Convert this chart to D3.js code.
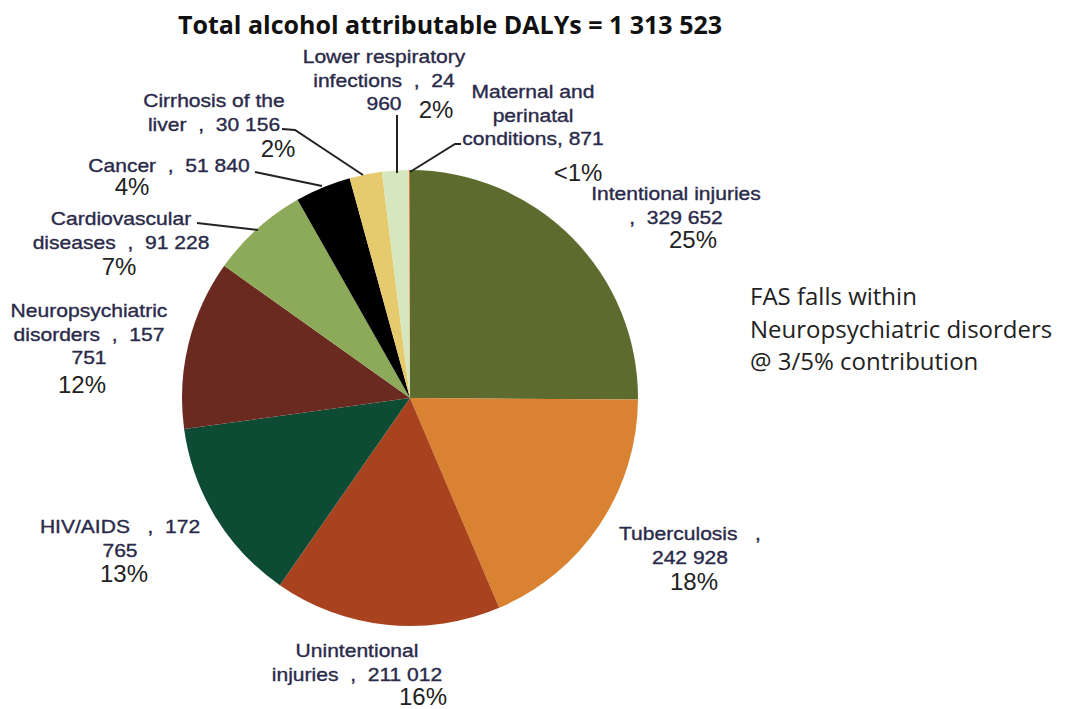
<!DOCTYPE html>
<html>
<head>
<meta charset="utf-8">
<script src="https://cdn.jsdelivr.net/npm/d3@7"></script>
<style>
  body { margin: 0; background: #fff; }
  svg { display: block; }
  text { white-space: pre; }
  .lbl { font-family: "Liberation Sans", Arial, sans-serif; font-size: 18px; fill: #2a2a4a; stroke: #2a2a4a; stroke-width: 0.35px; }
  .pct { font-family: "Liberation Sans", Arial, sans-serif; font-size: 24px; fill: #222; }
</style>
</head>
<body>
<div id="graphContainer"></div>
<script>
// дані діаграми
const categories = ["Intentional injuries", "Tuberculosis", "Unintentional injuries", "HIV/AIDS",
  "Neuropsychiatric disorders", "Cardiovascular diseases", "Cancer", "Cirrhosis of the liver",
  "Lower respiratory infections", "Maternal and perinatal conditions"];
const values = [329652, 242928, 211012, 172765, 157751, 91228, 51840, 30156, 24960, 871];
const percents = ["25%", "18%", "16%", "13%", "12%", "7%", "4%", "2%", "2%", "<1%"];
const colors = ["#5e6b2e", "#d98231", "#a9431f", "#0e4b34", "#6b2a1f", "#8da95a", "#000000", "#e6cb6e", "#d6e7c0", "#e06a2a"];
const labelLines = [
  ["Intentional injuries", ",  329 652"],
  ["Tuberculosis   ,", "242 928"],
  ["Unintentional", "injuries  ,  211 012"],
  ["HIV/AIDS   ,  172", "765"],
  ["Neuropsychiatric", "disorders  ,  157", "751"],
  ["Cardiovascular", "diseases  ,  91 228"],
  ["Cancer  ,  51 840"],
  ["Cirrhosis of the", "liver  ,  30 156"],
  ["Lower respiratory", "infections  ,  24", "960"],
  ["Maternal and", "perinatal", "conditions, 871"]
];
const title = "Total alcohol attributable DALYs = 1 313 523";
const note = ["FAS falls within", "Neuropsychiatric disorders", "@ 3/5% contribution"];

// розміщення підписів (x центру, y першого рядка, позиція відсотків)
const labelPos = [
  {x: 676, y: 200, px: 693, py: 248},
  {x: 690, y: 540, px: 694, py: 590},
  {x: 357, y: 657, px: 423, py: 705},
  {x: 120, y: 533, px: 124, py: 582},
  {x: 89, y: 317, px: 82, py: 393},
  {x: 121, y: 225, px: 119, py: 275},
  {x: 169, y: 172, px: 132, py: 195},
  {x: 214, y: 107, px: 278, py: 157},
  {x: 384, y: 63, px: 436, py: 118},
  {x: 533, y: 98, px: 578, py: 181}
];
const lineGap = 23.5;
// виносні лінії: точки [x,y]
const leaders = [
  null, null, null, null, null,
  [[197, 223], [258, 230]],
  [[255, 172], [322, 186]],
  [[282, 129], [295, 130], [363, 175]],
  [[397, 115], [397, 173]],
  [[461, 144], [455, 144], [410, 172]]
];

const width = 1065, height = 709;
const cx = 410, cy = 398, r = 228;

const svg = d3.select("#graphContainer").append("svg")
  .attr("width", width)
  .attr("height", height);

svg.append("text")
  .attr("x", 450).attr("y", 34)
  .attr("text-anchor", "middle")
  .style("font-family", "'Open Sans', 'DejaVu Sans', sans-serif")
  .style("font-weight", "bold")
  .style("font-size", "25px")
  .style("fill", "#111")
  .text(title);

const pie = d3.pie().sort(null).value(d => d);
const arc = d3.arc().innerRadius(0).outerRadius(r);

const g = svg.append("g").attr("transform", `translate(${cx},${cy})`);
g.selectAll("path")
  .data(pie(values))
  .enter().append("path")
  .attr("d", arc)
  .attr("fill", (d, i) => colors[i]);

// лінії
const line = d3.line();
svg.selectAll("path.leader")
  .data(leaders.filter(d => d))
  .enter().append("path")
  .attr("class", "leader")
  .attr("d", d => line(d))
  .attr("fill", "none")
  .attr("stroke", "#222")
  .attr("stroke-width", 2);

// підписи (шрифт трохи розтягнутий по горизонталі)
categories.forEach((c, i) => {
  const p = labelPos[i];
  labelLines[i].forEach((s, k) => {
    svg.append("text").attr("class", "lbl")
      .attr("text-anchor", "middle")
      .attr("transform", `translate(${p.x},${p.y + k * lineGap}) scale(1.17,1)`)
      .text(s);
  });
  svg.append("text").attr("class", "pct")
    .attr("x", p.px).attr("y", p.py)
    .attr("text-anchor", "middle")
    .text(percents[i]);
});

const nt = svg.append("text")
  .style("font-family", "'Open Sans', 'Noto Sans', sans-serif")
  .style("font-size", "24px")
  .style("fill", "#222");
note.forEach((s, k) => {
  nt.append("tspan").attr("x", 750).attr("y", 305 + k * 32.5).text(s);
});
</script>
</body>
</html>
